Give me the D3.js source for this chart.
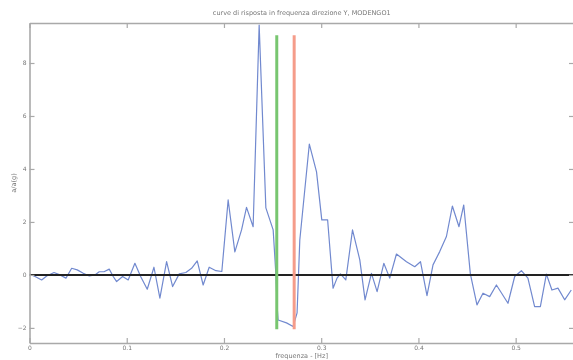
<!DOCTYPE html>
<html>
<head>
<meta charset="utf-8">
<script src="https://cdnjs.cloudflare.com/ajax/libs/d3/7.8.5/d3.min.js"></script>
<style>
  html, body { margin: 0; padding: 0; background: #fff; }
  text { font-family: 'DejaVu Sans', sans-serif; fill: #777; }
</style>
</head>
<body>
<div id="chart"></div>
<script>
// response curve
const freq = [0.000, 0.0057, 0.0125, 0.0177, 0.0252, 0.0313, 0.0375, 0.0434, 0.0491, 0.0553,
  0.0615, 0.0673, 0.0717, 0.0766, 0.0820, 0.0861, 0.0896, 0.0958, 0.1015, 0.1084,
  0.1143, 0.1211, 0.1280, 0.1341, 0.1410, 0.1472, 0.1540, 0.1608, 0.1667, 0.1725,
  0.1786, 0.1848, 0.1917, 0.1978, 0.2043, 0.2112, 0.2181, 0.2232, 0.2300, 0.2362,
  0.2431, 0.2506, 0.2533, 0.2547, 0.2557, 0.2643, 0.2711, 0.2752, 0.2780, 0.2878,
  0.2952, 0.3006, 0.3066, 0.3122, 0.3163, 0.3198, 0.3253, 0.3322, 0.3397, 0.3451,
  0.3517, 0.3575, 0.3644, 0.3705, 0.3774, 0.3877, 0.3962, 0.4021, 0.4088, 0.4150,
  0.4219, 0.4288, 0.4349, 0.4417, 0.4466, 0.4534, 0.4602, 0.4664, 0.4733, 0.4802,
  0.4921, 0.4990, 0.5059, 0.5126, 0.5195, 0.5254, 0.5316, 0.5373, 0.5435, 0.5504,
  0.5572];
const response = [0.03, -0.06, -0.19, -0.04, 0.09, 0.00, -0.12, 0.25, 0.19, 0.06,
  -0.04, 0.00, 0.12, 0.12, 0.22, -0.06, -0.25, -0.06, -0.19, 0.44,
  -0.06, -0.54, 0.29, -0.88, 0.50, -0.44, 0.04, 0.09, 0.25, 0.53,
  -0.38, 0.29, 0.16, 0.13, 2.83, 0.87, 1.70, 2.55, 1.82, 9.43,
  2.53, 1.70, 0.08, -1.20, -1.70, -1.81, -1.95, -1.43, 1.32, 4.94,
  3.89, 2.08, 2.08, -0.50, -0.12, 0.04, -0.19, 1.70, 0.57, -0.94,
  0.06, -0.63, 0.44, -0.12, 0.79, 0.50, 0.31, 0.50, -0.78, 0.38,
  0.88, 1.45, 2.60, 1.82, 2.64, 0.04, -1.13, -0.69, -0.82, -0.38,
  -1.07, -0.06, 0.16, -0.12, -1.20, -1.20, 0.03, -0.57, -0.50, -0.94,
  -0.57];

// marker lines
const markerFreq = [0.2543, 0.2722];
const markerColor = ['#78c670', '#f59c8a'];
const markerRange = [-2.05, 9.05];

const xTicks = [0, 0.1, 0.2, 0.3, 0.4, 0.5];
const yTicks = [-2, 0, 2, 4, 6, 8];
const xDomain = [0, 0.56];
const yDomain = [-2.57, 9.51];

const titleText = 'curve di risposta in frequenza direzione Y, MODENGO1';
const xLabel = 'frequenza - [Hz]';
const yLabel = 'a/a(g)';

const width = 573, height = 360;
const margin = {top: 23, right: -1, bottom: 17, left: 29.5};
const w = width - margin.left - margin.right;
const h = height - margin.top - margin.bottom;

const svg = d3.select('#chart').append('svg')
  .attr('width', width)
  .attr('height', height);

svg.append('defs').append('filter')
  .attr('id', 'soft')
  .append('feGaussianBlur')
  .attr('stdDeviation', 0.45);

const root = svg.append('g').attr('filter', 'url(#soft)');
const g = root.append('g')
  .attr('transform', 'translate(' + margin.left + ',' + margin.top + ')');

const x = d3.scaleLinear().domain(xDomain).range([0, w]);
const y = d3.scaleLinear().domain(yDomain).range([h, 0]);

// clip for the plot area
svg.select('defs').append('clipPath').attr('id', 'plot-clip')
  .append('rect').attr('width', w).attr('height', h);

const plot = g.append('g').attr('clip-path', 'url(#plot-clip)');

// blue response line
const line = d3.line()
  .x((d, i) => x(freq[i]))
  .y((d) => y(d));
plot.append('path')
  .datum(response)
  .attr('fill', 'none')
  .attr('stroke', '#7189cf')
  .attr('stroke-width', 1.2)
  .attr('stroke-linejoin', 'round')
  .attr('d', line);

// zero line
plot.append('line')
  .attr('x1', 0).attr('x2', w)
  .attr('y1', y(0)).attr('y2', y(0))
  .attr('stroke', '#222')
  .attr('stroke-width', 2);

// vertical markers
plot.selectAll('.marker')
  .data(markerFreq)
  .enter()
  .append('line')
  .attr('class', 'marker')
  .attr('x1', (d) => x(d)).attr('x2', (d) => x(d))
  .attr('y1', y(markerRange[0])).attr('y2', y(markerRange[1]))
  .attr('stroke', (d, i) => markerColor[i])
  .attr('stroke-width', 3);

// axes, matlab style: box, ticks inward
const axisColor = '#a9a9a9';
const fmt = (d) => d === 0 ? '0' : d3.format('.1f')(d);

const xb = g.append('g').attr('transform', 'translate(0,' + h + ')')
  .call(d3.axisBottom(x).tickValues(xTicks).tickSizeInner(-5).tickSizeOuter(0).tickPadding(3).tickFormat(fmt));
const xt = g.append('g')
  .call(d3.axisTop(x).tickValues(xTicks).tickSizeInner(-5).tickSizeOuter(0).tickFormat(''));
const yl = g.append('g')
  .call(d3.axisLeft(y).tickValues(yTicks).tickSizeInner(-5).tickSizeOuter(0).tickPadding(3));
const yr = g.append('g').attr('transform', 'translate(' + w + ',0)')
  .call(d3.axisRight(y).tickValues(yTicks).tickSizeInner(-5).tickSizeOuter(0).tickFormat(''));

[xb, xt, yl, yr].forEach((a) => {
  a.select('.domain').attr('stroke', axisColor).attr('stroke-width', 1.6);
  a.selectAll('.tick line').attr('stroke', axisColor).attr('stroke-width', 1.2);
  a.selectAll('.tick text').attr('fill', '#777').style('font-size', '6px');
});

// title and labels
root.append('text')
  .attr('x', margin.left + w / 2)
  .attr('y', 15)
  .attr('text-anchor', 'middle')
  .style('font-size', '6.5px')
  .text(titleText);

root.append('text')
  .attr('x', margin.left + w / 2)
  .attr('y', 358)
  .attr('text-anchor', 'middle')
  .style('font-size', '6.5px')
  .text(xLabel);

root.append('text')
  .attr('transform', 'translate(16,' + (margin.top + h / 2) + ') rotate(-90)')
  .attr('text-anchor', 'middle')
  .style('font-size', '6.5px')
  .text(yLabel);
</script>
</body>
</html>
